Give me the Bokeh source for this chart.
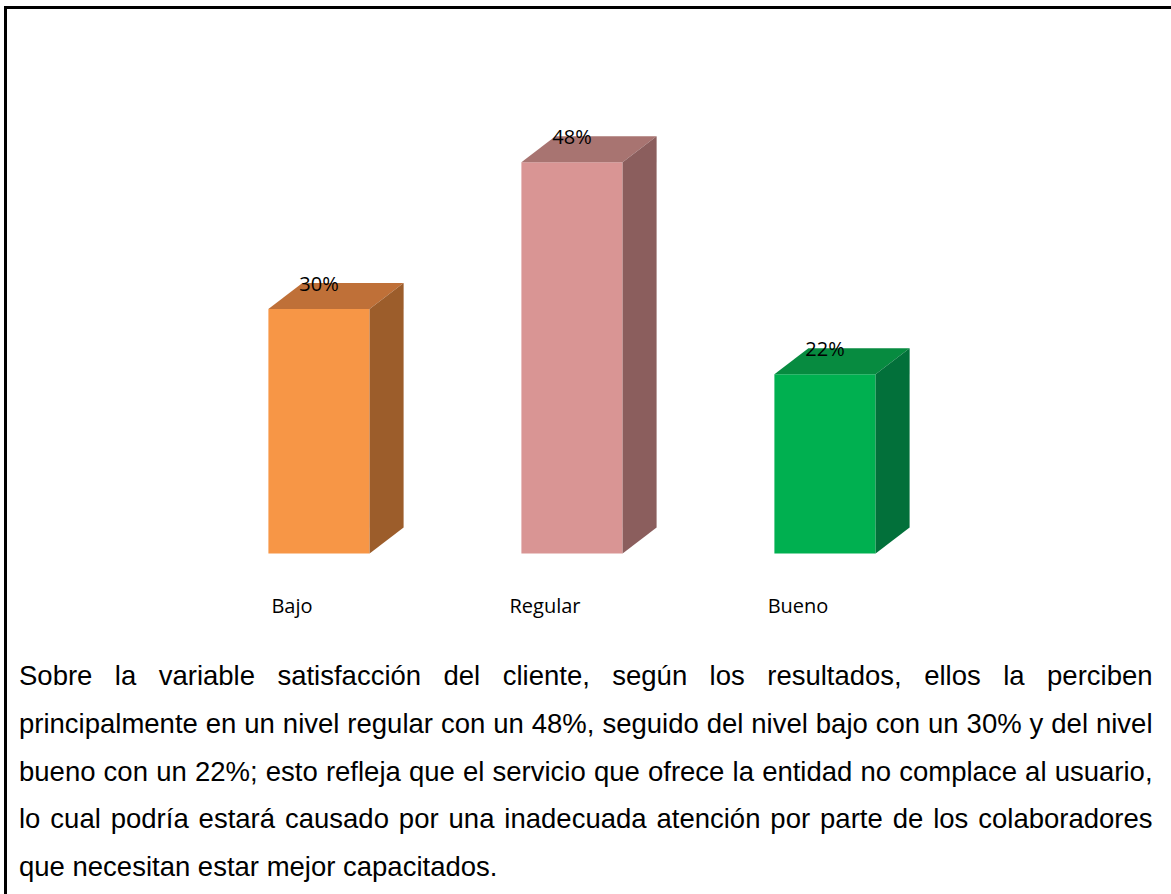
from bokeh.plotting import figure
from bokeh.models import Range1d
from bokeh.core.properties import value
from bokeh.embed import file_html
from bokeh.resources import INLINE

# ---- data ----
categories = ["Bajo", "Regular", "Bueno"]
percentages = [30, 48, 22]
front_colors = ["#F79646", "#D99594", "#00B050"]
top_colors = ["#BF7038", "#A87471", "#078B40"]
side_colors = ["#9C5D2B", "#8B5E5D", "#02703A"]

paragraph_lines = [
    "Sobre la variable satisfacción del cliente, según los resultados, ellos la perciben",
    "principalmente en un nivel regular con un 48%, seguido del nivel bajo con un 30% y del nivel",
    "bueno con un 22%; esto refleja que el servicio que ofrece la entidad no complace al usuario,",
    "lo cual podría estará causado por una inadecuada atención por parte de los colaboradores",
    "que necesitan estar mejor capacitados.",
]

# ---- layout constants ----
W, H = 1171, 894
X0_PX, X_STEP = 318.5, 253.0     # pixel centre of first bar, spacing
Y0_PX, Y_SCALE = 553.0, 8.15     # baseline pixel, pixels per %
HALF = 0.2
DX = 34 / X_STEP
DY = 26 / Y_SCALE

p = figure(width=W, height=H, output_backend="svg", toolbar_location=None,
           x_range=Range1d(-X0_PX / X_STEP, (W - X0_PX) / X_STEP),
           y_range=Range1d((Y0_PX - H) / Y_SCALE, Y0_PX / Y_SCALE),
           min_border=0, outline_line_color=None, background_fill_color="white",
           border_fill_color="white")
p.axis.visible = False
p.grid.visible = False
p.extra_x_ranges = {"px": Range1d(0, W)}
p.extra_y_ranges = {"py": Range1d(H, 0)}

xs = list(range(len(categories)))

# front faces
p.quad(left=[x - HALF for x in xs], right=[x + HALF for x in xs],
       bottom=[0] * len(xs), top=percentages,
       fill_color=front_colors, line_color=None)

# top faces
top_xs = [[x - HALF, x + HALF, x + HALF + DX, x - HALF + DX] for x in xs]
top_ys = [[v, v, v + DY, v + DY] for v in percentages]
p.patches(top_xs, top_ys, fill_color=top_colors, line_color=None)

# side faces
side_xs = [[x + HALF, x + HALF + DX, x + HALF + DX, x + HALF] for x in xs]
side_ys = [[0, DY, v + DY, v] for v in percentages]
p.patches(side_xs, side_ys, fill_color=side_colors, line_color=None)

# value labels
p.text(x=xs, y=[v + DY for v in percentages], text=[f"{v}%" for v in percentages],
       text_font=value("Open Sans"), text_font_size="20px", text_color="black",
       text_align="center", text_baseline="middle")

# category labels
p.text(x=[x - 27 / X_STEP for x in xs], y=[-52 / Y_SCALE] * len(xs), text=categories,
       text_font=value("Open Sans"), text_font_size="20px", text_color="black",
       text_align="center", text_baseline="middle")

# frame border (top and left visible)
p.line(x=[5, 5, W], y=[H, 7, 7], line_width=3, line_color="black",
       line_join="miter", x_range_name="px", y_range_name="py")

# ---- justified paragraph ----
ARIAL = {" ": 278, ",": 278, ".": 278, ";": 278, "%": 889, "S": 667,
         "a": 556, "b": 556, "c": 500, "d": 556, "e": 556, "f": 278, "g": 556,
         "h": 556, "i": 222, "j": 222, "k": 500, "l": 222, "m": 833, "n": 556,
         "o": 556, "p": 556, "q": 556, "r": 333, "s": 500, "t": 278, "u": 556,
         "v": 500, "w": 722, "x": 500, "y": 500, "z": 500,
         "á": 556, "é": 556, "í": 278, "ó": 556, "ú": 556}
FS = 27.5
LEFT, RIGHT = 18.5, 1152.0
MID0, LEAD = 675.0, 47.8


def tw(s):
    return sum(ARIAL.get(c, 556) for c in s) * FS / 1000.0


wx, wy, wt = [], [], []
for li, line in enumerate(paragraph_lines):
    words = line.split()
    ym = MID0 + li * LEAD
    if li < len(paragraph_lines) - 1 and len(words) > 1:
        total = sum(tw(w) for w in words)
        gap = (RIGHT - LEFT - total) / (len(words) - 1)
    else:
        gap = tw(" ")
    cx = LEFT
    for w in words:
        wx.append(cx)
        wy.append(ym)
        wt.append(w)
        cx += tw(w) + gap

p.text(x=wx, y=wy, text=wt, text_font=value("Liberation Sans"),
       text_font_size=f"{FS}px", text_color="black", text_align="left",
       text_baseline="middle", x_range_name="px", y_range_name="py")

open("out.html", "w").write(file_html(p, INLINE))
